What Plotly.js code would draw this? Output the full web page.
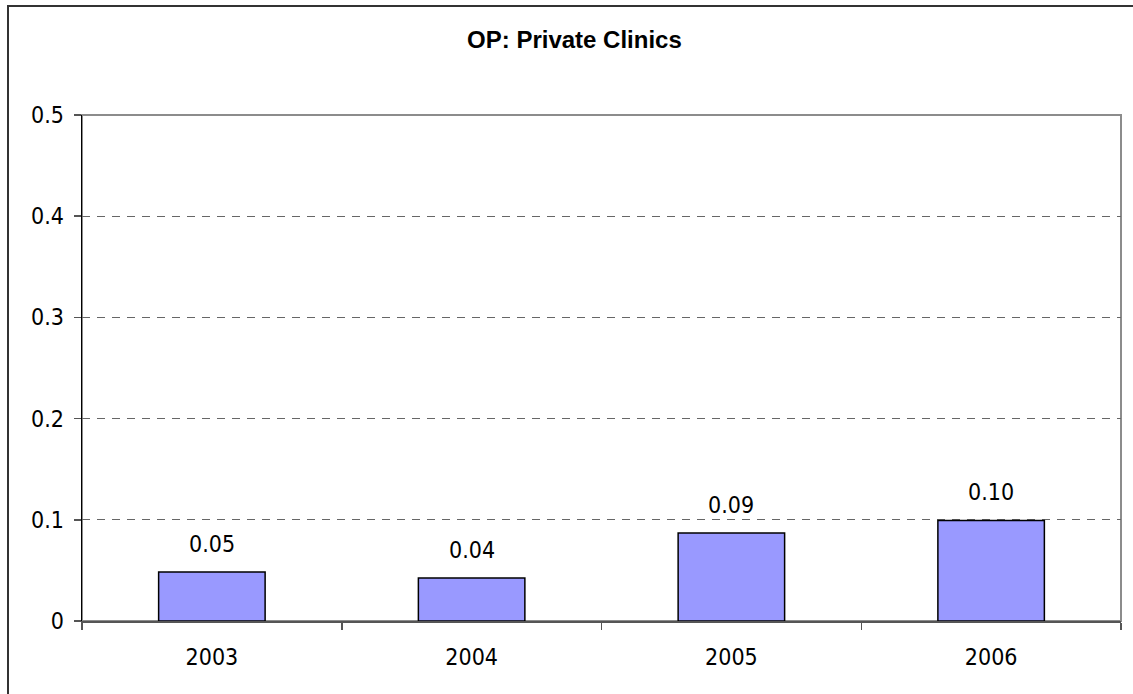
<!DOCTYPE html>
<html>
<head>
<meta charset="utf-8">
<script src="https://cdn.plot.ly/plotly-3.0.1.min.js"></script>
<style>
  html, body { margin: 0; padding: 0; background: #ffffff; overflow: hidden; }
  .edge { position: absolute; background: #333333; }
  #edge-top { left: 7px; top: 5px; width: 1140px; height: 2px; }
  #edge-left { left: 7px; top: 5px; width: 2px; height: 700px; }
  #chart { position: absolute; left: 0; top: 0; width: 1133px; height: 694px; }
</style>
</head>
<body>
<div class="edge" id="edge-top"></div>
<div class="edge" id="edge-left"></div>
<div id="chart"></div>
<script>
// Outpatient visits to private clinics, by year
const years = ['2003', '2004', '2005', '2006'];
const values = [0.0484, 0.0424, 0.0869, 0.0994];
const yTicks = [0, 0.1, 0.2, 0.3, 0.4, 0.5];
const yTickLabels = ['0', '0.1', '0.2', '0.3', '0.4', '0.5'];

const labelFont = { family: 'DejaVu Sans Condensed, DejaVu Sans, sans-serif', size: 23, color: '#000000' };

const bars = {
  type: 'bar',
  x: years,
  y: values,
  marker: { color: '#9999FF', line: { color: '#000000', width: 1.5 } },
  hoverinfo: 'x+y'
};

// value labels sit above each bar (x given as the category index)
const valueLabels = years.map((yr, i) => ({
  x: i, y: values[i], xref: 'x', yref: 'y',
  text: values[i].toFixed(2), showarrow: false,
  yanchor: 'bottom', yshift: 13, font: labelFont
}));

const layout = {
  width: 1133, height: 694,
  margin: { l: 82, r: 11.5, t: 115, b: 72.5 },
  paper_bgcolor: 'rgba(0,0,0,0)',
  plot_bgcolor: '#ffffff',
  showlegend: false,
  bargap: 0.59,
  title: {
    text: '<b>OP: Private Clinics</b>',
    font: { family: 'Liberation Sans, Arial, sans-serif', size: 24, color: '#000000' },
    xref: 'container', x: 0.507, xanchor: 'center',
    yref: 'container', y: 0.943, yanchor: 'middle'
  },
  xaxis: {
    type: 'category', range: [-0.5, years.length - 0.5],
    showline: true, linecolor: '#555555', linewidth: 1.5,
    ticks: 'outside', tickson: 'boundaries', ticklen: 7, tickcolor: '#555555', tickwidth: 1.5,
    ticklabelstandoff: 15,
    showgrid: false, zeroline: false, tickangle: 0,
    tickfont: labelFont, fixedrange: true
  },
  yaxis: {
    range: [0, 0.5],
    tickvals: yTicks, ticktext: yTickLabels,
    showline: true, linecolor: '#000000', linewidth: 1.5,
    ticks: 'outside', ticklen: 7, tickcolor: '#555555', tickwidth: 1.5,
    ticklabelstandoff: 5,
    showgrid: true, gridcolor: '#666666', gridwidth: 1, griddash: '8px,7px',
    zeroline: false, tickfont: labelFont, fixedrange: true
  },
  shapes: [{
    type: 'rect', xref: 'paper', yref: 'paper', x0: 0, x1: 1, y0: 0, y1: 1,
    line: { color: '#8c8c8c', width: 2 }, layer: 'between'
  }],
  annotations: valueLabels
};

Plotly.newPlot('chart', [bars], layout, { displayModeBar: false, staticPlot: true });
</script>
</body>
</html>
